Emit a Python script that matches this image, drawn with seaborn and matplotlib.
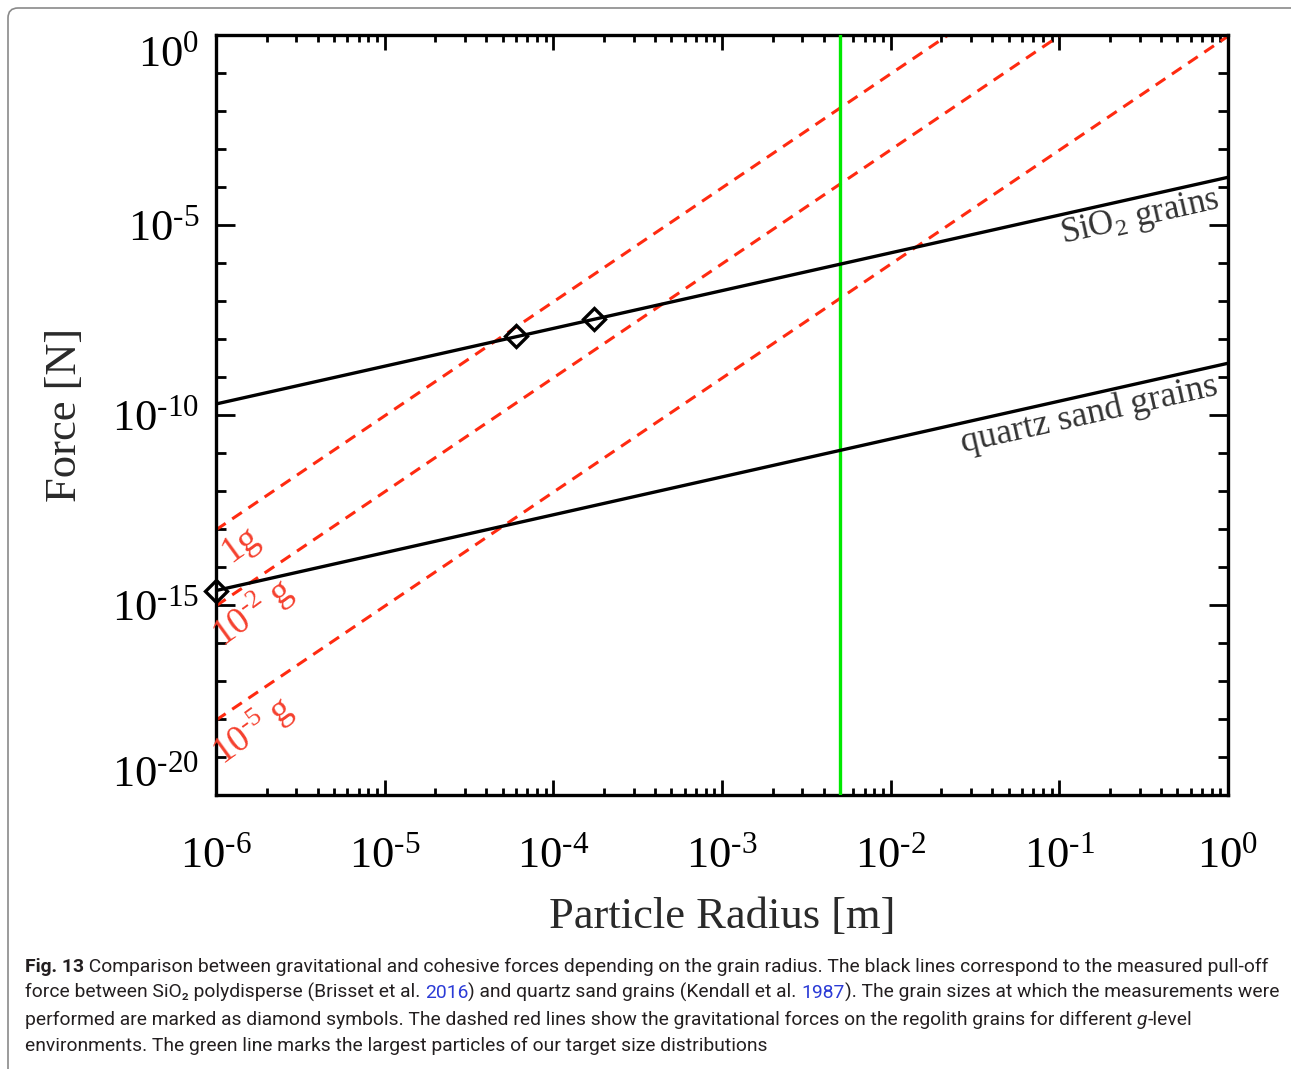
import numpy as np
import matplotlib
matplotlib.use('Agg')
import matplotlib.pyplot as plt
import seaborn as sns
from matplotlib import font_manager
from matplotlib.ticker import FixedLocator, LogLocator, NullFormatter, FuncFormatter
from matplotlib.patches import FancyBboxPatch
from matplotlib.transforms import IdentityTransform

# values (straight lines in log-log space, given by end points)
radius_ends = [1e-6, 1.0]
sio2_force = [1.95e-10, 1.8e-4]
quartz_force = [2.4e-15, 2.3e-9]
grav_1g = [9.5e-14, 9.5e4]
grav_1e2g = [9.5e-16, 9.5e2]
grav_1e5g = [9.3e-19, 9.3e-1]
diamond_r = [1e-6, 6.0e-5, 1.75e-4]
diamond_f = [2.4e-15, 1.17e-8, 3.4e-8]
green_radius = 5e-3
grav_names = ['1g', '$\\mathregular{10^{\u20102}}$ g', '$\\mathregular{10^{\u20105}}$ g']

W, H = 1291, 1069
sns.set_style('ticks')
plt.rcParams['font.family'] = ['Liberation Serif', 'DejaVu Serif']
plt.rcParams['mathtext.fontset'] = 'custom'
plt.rcParams['mathtext.rm'] = 'Liberation Serif'
plt.rcParams['mathtext.it'] = 'Liberation Serif:italic'

fig = plt.figure(figsize=(W / 100, H / 100), dpi=100)
ax = fig.add_axes([216 / W, 1 - 795 / H, (1228 - 216) / W, (795 - 35) / H])
ax.set_xscale('log')
ax.set_yscale('log')

red = '#ff2a10'
for f in [grav_1g, grav_1e2g, grav_1e5g]:
    ax.plot(radius_ends, f, color=red, lw=2.2, dashes=(3.8, 2.6), zorder=2)
ax.axvline(green_radius, color='#00e800', lw=2.4, zorder=3)
sns.lineplot(x=radius_ends, y=sio2_force, ax=ax, color='black', lw=2.4, zorder=4)
sns.lineplot(x=radius_ends, y=quartz_force, ax=ax, color='black', lw=2.4, zorder=4)
ax.plot(diamond_r, diamond_f, ls='none', marker='D', ms=11, mfc='none',
        mec='black', mew=2.4, zorder=5, clip_on=False)

ax.set_xlim(1e-6, 1)
ax.set_ylim(1e-20, 1)


def pow_label(v, p):
    e = int(round(np.log10(v)))
    s = str(e).replace('-', '\u2010')
    return '$\\mathregular{10^{%s}}$' % s


# ticks
fmt = FuncFormatter(pow_label)
ax.xaxis.set_major_locator(FixedLocator(10.0 ** np.arange(-6, 1)))
ax.xaxis.set_minor_locator(LogLocator(base=10, subs=np.arange(2, 10), numticks=50))
ax.xaxis.set_minor_formatter(NullFormatter())
ax.xaxis.set_major_formatter(fmt)
ax.yaxis.set_major_locator(FixedLocator(10.0 ** np.arange(-20, 1, 5)))
ax.yaxis.set_minor_locator(FixedLocator(10.0 ** np.arange(-20, 1)))
ax.yaxis.set_minor_formatter(NullFormatter())
ax.yaxis.set_major_formatter(fmt)
ax.tick_params(which='both', direction='in', top=True, right=True, width=2.0,
               colors='black', labelsize=32)
ax.tick_params(axis='x', which='major', length=11, pad=30)
ax.tick_params(axis='x', which='minor', length=5)
ax.tick_params(axis='y', which='major', length=14, pad=12)
ax.tick_params(axis='y', which='minor', length=7)
for s in ax.spines.values():
    s.set_linewidth(2.4)
    s.set_color('black')

ylabs = ax.get_yticklabels()
ylabs[0].set_va('bottom')
ylabs[-1].set_va('top')

fig.text(722 / W, 1 - 917 / H, 'Particle Radius [m]', fontsize=32, color='#2a2a2a',
         ha='center', va='center')
fig.text(65 / W, 1 - 415 / H, 'Force [N]', fontsize=32, color='#2a2a2a',
         ha='center', va='center', rotation=90)

# line labels
ax.text(0.30, 10 ** -4.82, r'SiO$_2$ grains', fontsize=25, color='#333333',
        rotation=12.7, rotation_mode='anchor', ha='center', va='center')
ax.text(0.15, 1e-10, 'quartz sand grains', fontsize=26, color='#333333',
        rotation=12.7, rotation_mode='anchor', ha='center', va='center')
grav_lab_x = [1.4e-6, 1.65e-6, 1.65e-6]
grav_lab_y = [10 ** -13.4, 10 ** -15.2, 10 ** -18.3]
for name, lx, ly in zip(grav_names, grav_lab_x, grav_lab_y):
    ax.text(lx, ly, name, fontsize=27, color='#f5402e', rotation=36,
            rotation_mode='anchor', ha='center', va='center')

# figure frame
fig.patches.append(FancyBboxPatch((8, -30), 1400, H - 8 + 30,
                                  boxstyle='round,pad=0,rounding_size=10',
                                  transform=IdentityTransform(), fill=False,
                                  ec='#8a8a8a', lw=1.2, figure=fig))

# caption
names = {f.name for f in font_manager.fontManager.ttflist}
cap_font = 'Liberation Sans Narrow' if 'Liberation Sans Narrow' in names else 'Roboto'
base = dict(family=[cap_font, 'DejaVu Sans'], color='#231f20')
blue = '#2b3bd6'
cap_lines = [
    [('Fig. 13', dict(weight='bold')),
     (' Comparison between gravitational and cohesive forces depending on the grain radius. '
      'The black lines correspond to the measured pull-off', {})],
    [('force between SiO\u2082 polydisperse (Brisset et al. ', {}), ('2016', dict(color=blue)),
     (') and quartz sand grains (Kendall et al. ', {}), ('1987', dict(color=blue)),
     ('). The grain sizes at which the measurements were', {})],
    [('performed are marked as diamond symbols. The dashed red lines show the gravitational '
      'forces on the regolith grains for different ', {}), ('g', dict(style='italic')),
     ('-level', {})],
    [('environments. The green line marks the largest particles of our target size distributions', {})],
]
renderer = fig.canvas.get_renderer()


def piece_width(txt, size, kw):
    props = dict(base)
    props.update(kw)
    a = fig.text(0, 0, txt + '|', fontsize=size, **props)
    b = fig.text(0, 0, '|', fontsize=size, **props)
    w = a.get_window_extent(renderer).width - b.get_window_extent(renderer).width
    a.remove()
    b.remove()
    return w


w10 = sum(piece_width(t, 10, k) for t, k in cap_lines[0])
cap_size = 10 * 1247 / w10
baselines = [972, 998, 1025, 1051]
for line, yb in zip(cap_lines, baselines):
    x = 25
    for txt, kw in line:
        props = dict(base)
        props.update(kw)
        fig.text(x / W, 1 - yb / H, txt, fontsize=cap_size, va='baseline', **props)
        x += piece_width(txt, cap_size, kw)

fig.savefig('out.png', dpi=100)
